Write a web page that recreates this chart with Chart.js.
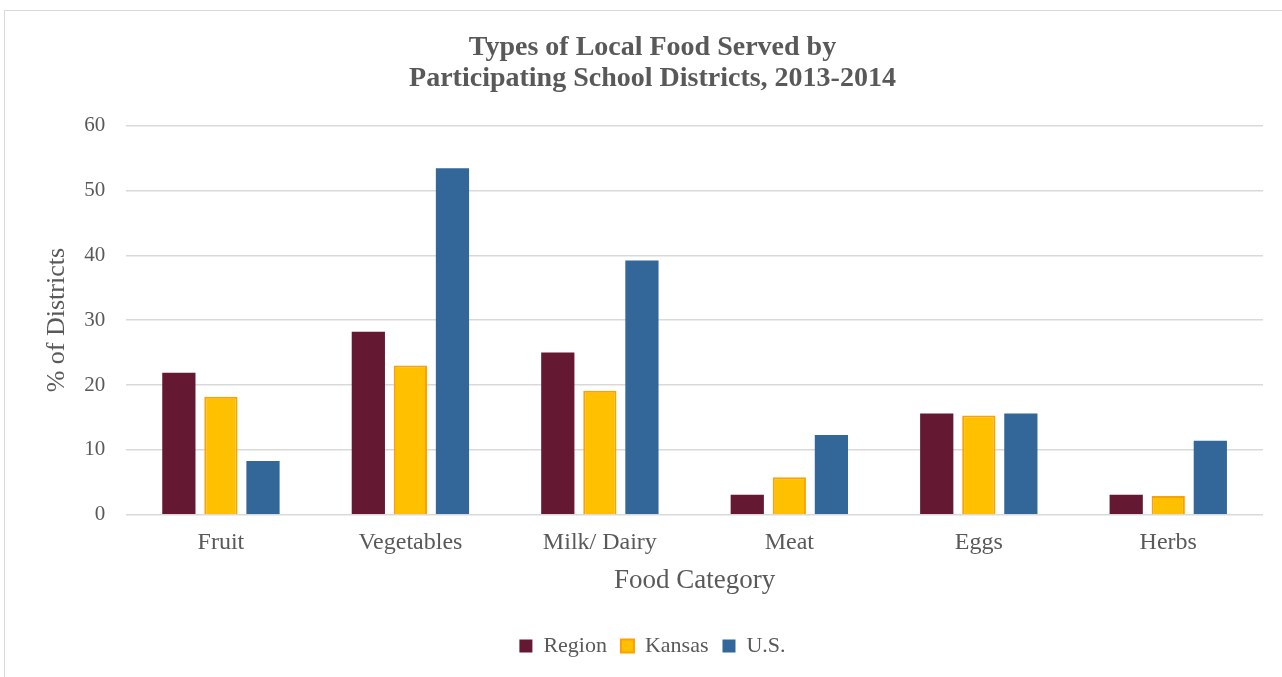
<!DOCTYPE html>
<html>
<head>
<meta charset="utf-8">
<script src="https://cdn.jsdelivr.net/npm/chart.js@4"></script>
<style>
  html, body { margin:0; padding:0; background:#fff; overflow:hidden; }
  #wrap { position:absolute; left:4px; top:10px; width:1290px; height:680px; border:1px solid #d9d9d9; box-sizing:border-box; }
  #c { display:block; }
</style>
</head>
<body>
<div id="wrap"><canvas id="c" width="1288" height="678"></canvas></div>
<script>
const categories = ['Fruit', 'Vegetables', 'Milk/ Dairy', 'Meat', 'Eggs', 'Herbs'];
const regionValues = [21.9, 28.2, 25.0, 3.1, 15.6, 3.1];
const kansasValues = [18.2, 23.0, 19.1, 5.8, 15.3, 2.9];
const usValues = [8.3, 53.4, 39.2, 12.3, 15.6, 11.4];
const seriesNames = ['Region', 'Kansas', 'U.S.'];
const yTicks = [0, 10, 20, 30, 40, 50, 60];

const FONT = "'Liberation Serif', 'DejaVu Serif', serif";
const GRAY = '#595959';

new Chart(document.getElementById('c'), {
  type: 'bar',
  data: {
    labels: categories,
    datasets: [
      { label: seriesNames[0], data: regionValues, backgroundColor: '#641832', borderColor: '#641832', borderWidth: 0 },
      { label: seriesNames[1], data: kansasValues, backgroundColor: '#FFC000', borderColor: '#FF9F00', borderWidth: 2 },
      { label: seriesNames[2], data: usValues, backgroundColor: '#336699', borderColor: '#336699', borderWidth: 0 }
    ]
  },
  options: {
    responsive: false,
    animation: false,
    devicePixelRatio: 1,
    datasets: { bar: { categoryPercentage: 0.666, barPercentage: 0.79 } },
    layout: { padding: { top: 22, right: 30, bottom: 22, left: 37 } },
    plugins: {
      title: {
        display: true,
        text: ['Types of Local Food Served by', 'Participating School Districts, 2013-2014'],
        color: GRAY,
        font: { family: FONT, size: 28, weight: 'bold', lineHeight: 1.08 },
        padding: { top: 0, bottom: 32 }
      },
      legend: {
        position: 'bottom',
        labels: {
          color: GRAY,
          font: { family: FONT, size: 22 },
          boxWidth: 13, boxHeight: 13,
          padding: 14,
          generateLabels: (chart) => chart.data.datasets.map((ds, i) => ({
            text: ds.label,
            fillStyle: ds.backgroundColor,
            strokeStyle: ds.borderColor,
            lineWidth: i === 1 ? 2 : 0,
            fontColor: GRAY,
            datasetIndex: i,
            hidden: false
          }))
        }
      },
      tooltip: { enabled: false }
    },
    scales: {
      x: {
        grid: { display: false, drawTicks: false },
        border: { display: false },
        ticks: { color: GRAY, font: { family: FONT, size: 24 }, padding: 14 },
        title: { display: true, text: 'Food Category', color: GRAY, font: { family: FONT, size: 27 }, padding: { top: 6, bottom: 24 } },
        afterFit: (axis) => { axis.height -= 13; }
      },
      y: {
        min: 0, max: 60,
        afterBuildTicks: (axis) => { axis.ticks = yTicks.map(v => ({ value: v })); },
        grid: { color: '#d9d9d9', lineWidth: 1.5, drawTicks: false },
        border: { display: false },
        ticks: { color: GRAY, font: { family: FONT, size: 21 }, padding: 21 },
        title: { display: true, text: '% of Districts', color: GRAY, font: { family: FONT, size: 26 }, padding: { top: 0, bottom: 4 } },
        afterFit: (axis) => { axis.width -= 14; }
      }
    }
  }
});
</script>
</body>
</html>
